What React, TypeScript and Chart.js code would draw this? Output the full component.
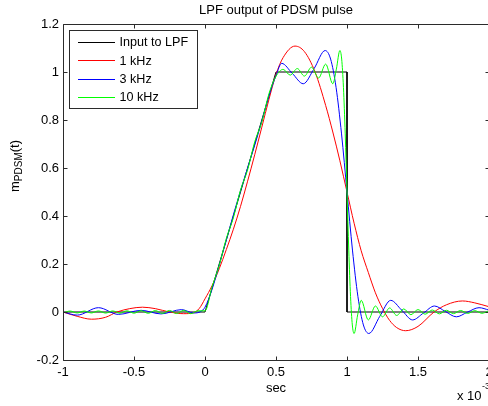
import React, { useEffect, useRef } from 'react';
import { Chart, registerables } from 'chart.js';

Chart.register(...registerables);

// ---- data (time in units of 10^-3 sec) ----
const inputT = [-1, 0, 0.5, 1, 1, 2];
const inputV = [0, 0, 1, 1, 0, 0];

const redT = [-1, -0.9, -0.8, -0.7, -0.62, -0.53, -0.44, -0.35, -0.25, -0.15, -0.08, -0.04, 0, 0.05, 0.1, 0.15, 0.2, 0.25, 0.3, 0.35, 0.4, 0.45, 0.5, 0.55, 0.634, 0.7, 0.775, 0.85, 0.9, 0.95, 1.0, 1.05, 1.1, 1.15, 1.2, 1.25, 1.3, 1.35, 1.413, 1.5, 1.613, 1.7, 1.813, 1.9, 2.0];
const redV = [0, -0.018, -0.03, -0.022, 0, 0.014, 0.02, 0.014, 0, -0.007, -0.003, 0.015, 0.055, 0.11, 0.18, 0.26, 0.345, 0.44, 0.545, 0.655, 0.77, 0.885, 0.99, 1.06, 1.108, 1.085, 1.0, 0.86, 0.75, 0.63, 0.5, 0.37, 0.255, 0.165, 0.08, 0.015, -0.035, -0.065, -0.078, -0.06, 0, 0.03, 0.046, 0.038, 0.022];

const blueT = [-1, -0.9, -0.75, -0.61, -0.45, -0.31, -0.165, -0.08, -0.03, 0, 0.05, 0.1, 0.15, 0.2, 0.25, 0.3, 0.35, 0.4, 0.45, 0.5, 0.54, 0.615, 0.692, 0.769, 0.846, 0.8845, 0.923, 0.9615, 1.0, 1.0385, 1.077, 1.1155, 1.154, 1.231, 1.308, 1.385, 1.462, 1.539, 1.616, 1.693, 1.77, 1.847, 1.93, 2.0];
const blueV = [0, -0.013, 0.018, -0.01, 0.007, -0.008, 0.01, -0.004, 0.002, 0.02, 0.095, 0.195, 0.3, 0.405, 0.505, 0.6, 0.695, 0.795, 0.9, 0.985, 1.036, 0.994, 0.951, 1.015, 1.0895, 1.054, 0.936, 0.742, 0.5, 0.258, 0.064, -0.054, -0.0895, -0.018, 0.0486, 0.008, -0.0331, -0.004, 0.025, 0.002, -0.0201, -0.001, 0.018, 0.008];

const greenT = [-1, -0.95, -0.9, -0.85, -0.8, -0.75, -0.7, -0.65, -0.6, -0.55, -0.5, -0.45, -0.4, -0.35, -0.3, -0.25, -0.2, -0.15, -0.1, -0.05, 0,
  0.05, 0.1, 0.15, 0.2, 0.25, 0.3, 0.35, 0.4, 0.45, 0.5, 0.55, 0.6, 0.65, 0.7, 0.75, 0.8, 0.85, 0.9, 0.925, 0.95, 0.9625, 0.975, 0.9875, 1.0,
  1.0125, 1.025, 1.0375, 1.05, 1.075, 1.1, 1.15, 1.2, 1.25, 1.3, 1.35, 1.4, 1.45, 1.5, 1.55, 1.6, 1.65, 1.7, 1.75, 1.8, 1.85, 1.9, 1.95, 2.0];
const greenV = [-0.004, 0.004, -0.004, 0.004, -0.004, 0.0045, -0.0045, 0.0045, -0.005, 0.005, -0.005, 0.0055, -0.0055, 0.006, -0.006, 0.0065, -0.0065, 0.007, -0.007, 0.005, 0.005,
  0.105, 0.194, 0.306, 0.393, 0.508, 0.592, 0.709, 0.791, 0.909, 0.982, 1.011, 0.987, 1.0144, 0.983, 1.02, 0.975, 1.033, 0.951, 1.012, 1.0895, 1.054, 0.936, 0.742, 0.5,
  0.258, 0.064, -0.054, -0.0895, -0.012, 0.0486, -0.0331, 0.025, -0.0201, 0.0168, -0.0144, 0.0127, -0.0113, 0.0101, -0.0092, 0.0084, -0.0078, 0.0072, -0.0068, 0.0063, -0.006, 0.0056, -0.0053, 0.0051];

const xTicks = [-1, -0.5, 0, 0.5, 1, 1.5, 2];
const yTicks = [-0.2, 0, 0.2, 0.4, 0.6, 0.8, 1, 1.2];
const seriesLabels = ['Input to LPF', '1 kHz', '3 kHz', '10 kHz'];
const seriesColors = ['#000000', '#ff0000', '#0000ff', '#00ff00'];
const titleText = 'LPF output of PDSM pulse';
const xLabelText = 'sec';
const yLabelMain = 'm';
const yLabelSub = 'PDSM';
const yLabelTail = '(t)';
const expBase = 'x 10';
const expPower = '-3';

const FONT = '"Liberation Sans", Arial, Helvetica, sans-serif';
const CW = 520;
const CH = 406;

const pts = (t: number[], v: number[]) => t.map((x, i) => ({ x, y: v[i] }));
const fmt = (v: number) => (Math.round(v * 10) / 10).toString();

const decorPlugin = {
  id: 'matlabDecor',
  afterDraw(chart: any) {
    const ctx = chart.ctx as CanvasRenderingContext2D;
    const a = chart.chartArea;
    const xs = chart.scales.x;
    const ys = chart.scales.y;
    const L = Math.round(a.left) + 0.5;
    const R = Math.round(a.right) + 0.5;
    const T = Math.round(a.top) + 0.5;
    const B = Math.round(a.bottom) + 0.5;
    ctx.save();
    ctx.strokeStyle = '#2b2b2b';
    ctx.lineWidth = 1;
    ctx.beginPath();
    ctx.moveTo(L, T); ctx.lineTo(R, T); ctx.lineTo(R, B); ctx.lineTo(L, B); ctx.closePath();
    const tk = 4;
    xs.ticks.forEach((t: any) => {
      const px = Math.round(xs.getPixelForValue(t.value)) + 0.5;
      ctx.moveTo(px, B); ctx.lineTo(px, B - tk);
      ctx.moveTo(px, T); ctx.lineTo(px, T + tk);
    });
    ys.ticks.forEach((t: any) => {
      const py = Math.round(ys.getPixelForValue(t.value)) + 0.5;
      ctx.moveTo(L, py); ctx.lineTo(L + tk, py);
      ctx.moveTo(R, py); ctx.lineTo(R - tk, py);
    });
    ctx.stroke();

    // title
    ctx.fillStyle = '#000';
    ctx.font = `13px ${FONT}`;
    ctx.textAlign = 'center';
    ctx.textBaseline = 'alphabetic';
    const cx = (a.left + a.right) / 2;
    ctx.fillText(titleText, cx, 14);
    // x label
    ctx.fillText(xLabelText, cx, 392);
    // exponent
    ctx.textAlign = 'left';
    ctx.fillText(expBase, 457, 400);
    const wb = ctx.measureText(expBase).width;
    ctx.font = `9px ${FONT}`;
    ctx.fillText(expPower, 457 + wb + 0.5, 389);

    // y label (rotated, with subscript)
    ctx.save();
    ctx.translate(18.5, 166);
    ctx.rotate(-Math.PI / 2);
    ctx.font = `13px ${FONT}`;
    const w1 = ctx.measureText(yLabelMain).width;
    const w3 = ctx.measureText(yLabelTail).width;
    ctx.font = `10px ${FONT}`;
    const w2 = ctx.measureText(yLabelSub).width;
    let sx = -(w1 + w2 + w3) / 2;
    ctx.textAlign = 'left';
    ctx.font = `13px ${FONT}`;
    ctx.fillText(yLabelMain, sx, 0);
    sx += w1;
    ctx.font = `10px ${FONT}`;
    ctx.fillText(yLabelSub, sx, 3.5);
    sx += w2;
    ctx.font = `13px ${FONT}`;
    ctx.fillText(yLabelTail, sx, 0);
    ctx.restore();

    // legend
    const bx = 69.5, by = 30.5, bw = 128, bh = 78;
    ctx.fillStyle = '#fff';
    ctx.fillRect(bx, by, bw, bh);
    ctx.strokeStyle = '#2b2b2b';
    ctx.strokeRect(bx, by, bw, bh);
    const ds = chart.data.datasets;
    ds.forEach((d: any, i: number) => {
      const ry = 42.3 + i * 18.35;
      const ly = Math.floor(ry) + 0.5;
      ctx.strokeStyle = d.borderColor;
      ctx.beginPath();
      ctx.moveTo(78, ly); ctx.lineTo(115, ly);
      ctx.stroke();
      ctx.fillStyle = '#000';
      ctx.font = `12.6px ${FONT}`;
      ctx.textAlign = 'left';
      ctx.textBaseline = 'middle';
      ctx.fillText(d.label, 119.5, ry + 0.5);
    });
    ctx.restore();
  },
};

export default function App() {
  const ref = useRef<HTMLCanvasElement | null>(null);
  useEffect(() => {
    if (!ref.current) return;
    const series = [pts(inputT, inputV), pts(redT, redV), pts(blueT, blueV), pts(greenT, greenV)];
    const chart = new Chart(ref.current, {
      type: 'line',
      data: {
        datasets: series.map((s, i) => ({
          label: seriesLabels[i],
          data: s,
          borderColor: seriesColors[i],
          backgroundColor: seriesColors[i],
          borderWidth: 1,
          pointRadius: 0,
          fill: false,
          order: 4 - i,
          tension: 0,
          cubicInterpolationMode: i === 0 ? 'default' : 'monotone',
        })) as any,
      },
      options: {
        responsive: false,
        animation: false,
        devicePixelRatio: 1,
        parsing: false,
        normalized: true,
        layout: { padding: { left: 0, right: CW - 489, top: 24, bottom: 0 } },
        plugins: { legend: { display: false }, tooltip: { enabled: false }, title: { display: false } },
        scales: {
          x: {
            type: 'linear',
            min: -1,
            max: 2,
            afterBuildTicks: (s: any) => { s.ticks = xTicks.map((v) => ({ value: v })); },
            afterFit: (s: any) => { s.height = 46; s.paddingLeft = 0; s.paddingRight = 0; },
            ticks: {
              autoSkip: false,
              maxRotation: 0,
              minRotation: 0,
              padding: 5,
              color: '#000',
              font: { family: FONT, size: 13 },
              callback: (v: any) => fmt(Number(v)),
            },
            grid: { display: false, drawTicks: false },
            border: { display: false },
          },
          y: {
            type: 'linear',
            min: -0.2,
            max: 1.2,
            afterBuildTicks: (s: any) => { s.ticks = yTicks.map((v) => ({ value: v })); },
            afterFit: (s: any) => { s.width = 63; s.paddingTop = 0; s.paddingBottom = 0; },
            ticks: {
              autoSkip: false,
              padding: 4,
              color: '#000',
              font: { family: FONT, size: 13 },
              callback: (v: any) => fmt(Number(v)),
            },
            grid: { display: false, drawTicks: false },
            border: { display: false },
          },
        },
      },
      plugins: [decorPlugin],
    });
    return () => chart.destroy();
  }, []);
  return (
    <div style={{ position: 'fixed', left: 0, top: 0, width: 488, height: 406, overflow: 'hidden', background: '#fff' }}>
      <canvas ref={ref} width={CW} height={CH} style={{ display: 'block', width: CW, height: CH }} />
    </div>
  );
}
